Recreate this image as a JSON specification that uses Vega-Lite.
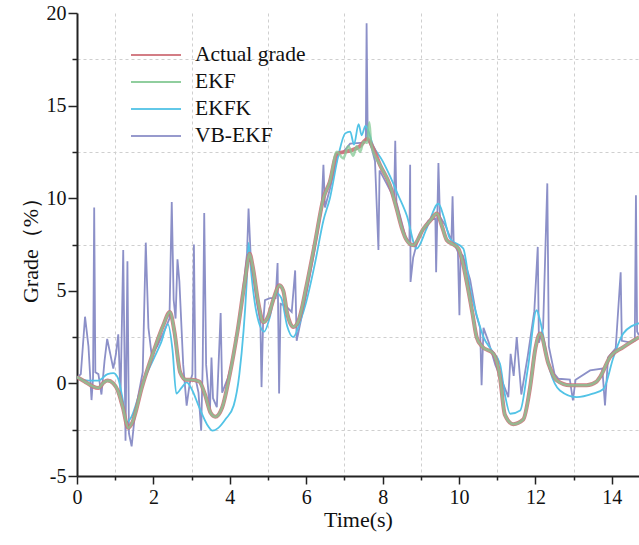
{
  "$schema": "https://vega.github.io/schema/vega-lite/v6.json",
  "width": 562,
  "height": 463,
  "autosize": {"type": "none"},
  "padding": {"left": 77, "top": 13, "right": 0, "bottom": 69},
  "background": "white",
  "config": {
    "view": {"stroke": null},
    "font": "Liberation Serif"
  },
  "datasets": {
    "actual": [
      {"t":0,"v":0.35},{"t":0.2,"v":0.1},{"t":0.4,"v":-0.15},{"t":0.56,"v":-0.25},{"t":0.7,"v":0.05},{"t":0.8,"v":0.15},{"t":0.95,"v":0.0},{"t":1.07,"v":-0.4},{"t":1.2,"v":-1.3},{"t":1.34,"v":-2.4},{"t":1.45,"v":-2.1},{"t":1.7,"v":-0.2},{"t":2.0,"v":1.7},{"t":2.25,"v":3.1},{"t":2.43,"v":3.85},{"t":2.55,"v":2.8},{"t":2.7,"v":0.6},{"t":2.85,"v":0.2},{"t":3.0,"v":0.2},{"t":3.2,"v":0.1},{"t":3.35,"v":-0.6},{"t":3.5,"v":-1.6},{"t":3.62,"v":-1.8},{"t":3.8,"v":-1.3},{"t":4.0,"v":0.5},{"t":4.2,"v":2.8},{"t":4.4,"v":5.6},{"t":4.52,"v":7.0},{"t":4.6,"v":6.3},{"t":4.75,"v":4.3},{"t":4.88,"v":3.3},{"t":5.0,"v":3.6},{"t":5.15,"v":4.6},{"t":5.3,"v":5.3},{"t":5.4,"v":5.0},{"t":5.5,"v":3.8},{"t":5.66,"v":3.05},{"t":5.8,"v":3.4},{"t":6.0,"v":5.2},{"t":6.23,"v":7.6},{"t":6.45,"v":10.0},{"t":6.62,"v":10.9},{"t":6.8,"v":12.4},{"t":7.0,"v":12.5},{"t":7.2,"v":12.6},{"t":7.4,"v":12.8},{"t":7.6,"v":13.2},{"t":7.75,"v":12.7},{"t":7.93,"v":11.8},{"t":8.19,"v":10.7},{"t":8.37,"v":9.4},{"t":8.5,"v":8.4},{"t":8.63,"v":7.73},{"t":8.8,"v":7.46},{"t":9.07,"v":8.36},{"t":9.25,"v":8.8},{"t":9.42,"v":9.17},{"t":9.55,"v":8.5},{"t":9.68,"v":7.73},{"t":9.85,"v":7.5},{"t":9.98,"v":7.28},{"t":10.1,"v":6.5},{"t":10.2,"v":5.48},{"t":10.35,"v":3.8},{"t":10.46,"v":2.5},{"t":10.6,"v":2.0},{"t":10.9,"v":1.6},{"t":11.07,"v":0.34},{"t":11.2,"v":-1.7},{"t":11.42,"v":-2.2},{"t":11.68,"v":-1.95},{"t":11.86,"v":-0.2},{"t":12.0,"v":1.9},{"t":12.12,"v":2.69},{"t":12.34,"v":1.06},{"t":12.56,"v":0.16},{"t":12.9,"v":-0.1},{"t":13.34,"v":-0.1},{"t":13.6,"v":0.1},{"t":13.69,"v":0.34},{"t":13.95,"v":1.42},{"t":14.3,"v":1.96},{"t":14.71,"v":2.5}
    ],
    "ekf": [
      {"t":0,"v":0.35},{"t":0.2,"v":0.1},{"t":0.4,"v":-0.15},{"t":0.56,"v":-0.25},{"t":0.7,"v":0.05},{"t":0.8,"v":0.15},{"t":0.95,"v":0.0},{"t":1.07,"v":-0.4},{"t":1.2,"v":-1.3},{"t":1.34,"v":-2.4},{"t":1.45,"v":-2.1},{"t":1.7,"v":-0.2},{"t":2.0,"v":1.7},{"t":2.25,"v":3.1},{"t":2.43,"v":3.85},{"t":2.55,"v":2.8},{"t":2.7,"v":0.6},{"t":2.85,"v":0.2},{"t":3.0,"v":0.2},{"t":3.2,"v":0.1},{"t":3.35,"v":-0.6},{"t":3.5,"v":-1.6},{"t":3.62,"v":-1.8},{"t":3.8,"v":-1.3},{"t":4.0,"v":0.5},{"t":4.2,"v":2.8},{"t":4.4,"v":5.6},{"t":4.52,"v":7.0},{"t":4.6,"v":6.3},{"t":4.75,"v":4.3},{"t":4.88,"v":3.3},{"t":5.0,"v":3.6},{"t":5.15,"v":4.6},{"t":5.3,"v":5.3},{"t":5.4,"v":5.0},{"t":5.5,"v":3.8},{"t":5.66,"v":3.05},{"t":5.8,"v":3.4},{"t":6.0,"v":5.2},{"t":6.23,"v":7.6},{"t":6.45,"v":10.0},{"t":6.62,"v":10.9},{"t":6.8,"v":12.5},{"t":6.97,"v":12.15},{"t":7.1,"v":12.8},{"t":7.23,"v":12.3},{"t":7.32,"v":12.8},{"t":7.41,"v":12.5},{"t":7.5,"v":13.05},{"t":7.6,"v":13.0},{"t":7.65,"v":14.1},{"t":7.7,"v":12.9},{"t":7.93,"v":11.8},{"t":8.19,"v":10.7},{"t":8.37,"v":9.4},{"t":8.5,"v":8.4},{"t":8.63,"v":7.73},{"t":8.8,"v":7.46},{"t":9.07,"v":8.36},{"t":9.25,"v":8.8},{"t":9.42,"v":9.17},{"t":9.55,"v":8.5},{"t":9.68,"v":7.73},{"t":9.85,"v":7.5},{"t":9.98,"v":7.28},{"t":10.1,"v":6.5},{"t":10.2,"v":5.48},{"t":10.35,"v":3.8},{"t":10.46,"v":2.5},{"t":10.6,"v":2.0},{"t":10.9,"v":1.6},{"t":11.07,"v":0.34},{"t":11.2,"v":-1.7},{"t":11.42,"v":-2.2},{"t":11.68,"v":-1.95},{"t":11.86,"v":-0.2},{"t":12.0,"v":1.9},{"t":12.12,"v":2.69},{"t":12.34,"v":1.06},{"t":12.56,"v":0.16},{"t":12.9,"v":-0.1},{"t":13.34,"v":-0.1},{"t":13.6,"v":0.1},{"t":13.69,"v":0.34},{"t":13.95,"v":1.42},{"t":14.3,"v":1.96},{"t":14.71,"v":2.5}
    ],
    "ekfk": [
      {"t":0,"v":0.3},{"t":0.3,"v":0.15},{"t":0.55,"v":0.15},{"t":0.8,"v":0.5},{"t":0.95,"v":0.55},{"t":1.07,"v":0.3},{"t":1.2,"v":-0.9},{"t":1.3,"v":-2.1},{"t":1.4,"v":-1.9},{"t":1.7,"v":-0.1},{"t":2.0,"v":1.3},{"t":2.2,"v":2.2},{"t":2.38,"v":3.2},{"t":2.5,"v":1.8},{"t":2.6,"v":-0.55},{"t":2.75,"v":-0.2},{"t":2.87,"v":0.05},{"t":3.0,"v":-0.3},{"t":3.2,"v":-1.3},{"t":3.4,"v":-2.2},{"t":3.55,"v":-2.55},{"t":3.7,"v":-2.4},{"t":3.9,"v":-1.9},{"t":4.1,"v":-1.2},{"t":4.25,"v":0.5},{"t":4.44,"v":5.4},{"t":4.49,"v":7.6},{"t":4.55,"v":6.2},{"t":4.7,"v":3.8},{"t":4.9,"v":2.8},{"t":5.05,"v":3.6},{"t":5.2,"v":4.9},{"t":5.35,"v":4.6},{"t":5.5,"v":3.1},{"t":5.66,"v":2.5},{"t":5.85,"v":3.4},{"t":6.0,"v":4.4},{"t":6.23,"v":6.5},{"t":6.45,"v":8.8},{"t":6.62,"v":10.0},{"t":6.84,"v":12.3},{"t":7.02,"v":13.5},{"t":7.15,"v":13.6},{"t":7.25,"v":12.9},{"t":7.37,"v":14.0},{"t":7.45,"v":13.4},{"t":7.55,"v":13.9},{"t":7.76,"v":12.8},{"t":8.0,"v":12.0},{"t":8.19,"v":11.2},{"t":8.4,"v":10.2},{"t":8.63,"v":9.08},{"t":8.89,"v":7.28},{"t":9.15,"v":8.36},{"t":9.46,"v":9.7},{"t":9.6,"v":9.0},{"t":9.76,"v":7.82},{"t":10.11,"v":7.28},{"t":10.3,"v":5.0},{"t":10.46,"v":3.7},{"t":10.64,"v":2.5},{"t":10.85,"v":1.8},{"t":11.07,"v":1.06},{"t":11.2,"v":-0.6},{"t":11.34,"v":-1.64},{"t":11.6,"v":-1.46},{"t":11.8,"v":0.8},{"t":12.03,"v":3.95},{"t":12.12,"v":3.4},{"t":12.38,"v":0.7},{"t":12.64,"v":-0.38},{"t":13.08,"v":-0.74},{"t":13.5,"v":-0.55},{"t":13.78,"v":-0.3},{"t":14.04,"v":1.4},{"t":14.3,"v":2.7},{"t":14.71,"v":3.25}
    ],
    "vb": [
      {"t":0,"v":0.3},{"t":0.1,"v":0.5},{"t":0.21,"v":3.6},{"t":0.3,"v":2.0},{"t":0.38,"v":-0.9},{"t":0.42,"v":0.3},{"t":0.45,"v":9.5},{"t":0.48,"v":0.6},{"t":0.56,"v":0.5},{"t":0.64,"v":-0.6},{"t":0.72,"v":1.2},{"t":0.79,"v":2.4},{"t":0.87,"v":1.6},{"t":0.95,"v":0.8},{"t":1.02,"v":1.6},{"t":1.08,"v":2.65},{"t":1.14,"v":-0.7},{"t":1.21,"v":7.2},{"t":1.27,"v":-3.1},{"t":1.32,"v":6.6},{"t":1.36,"v":-2.7},{"t":1.43,"v":-3.4},{"t":1.5,"v":-2.0},{"t":1.6,"v":-0.7},{"t":1.72,"v":0.6},{"t":1.8,"v":7.6},{"t":1.87,"v":3.0},{"t":1.95,"v":1.6},{"t":2.1,"v":2.0},{"t":2.3,"v":2.9},{"t":2.42,"v":3.5},{"t":2.48,"v":9.8},{"t":2.53,"v":4.5},{"t":2.58,"v":3.5},{"t":2.63,"v":6.7},{"t":2.68,"v":5.5},{"t":2.78,"v":1.0},{"t":2.87,"v":-1.2},{"t":2.95,"v":0.0},{"t":3.02,"v":0.5},{"t":3.06,"v":7.5},{"t":3.1,"v":0.3},{"t":3.18,"v":-0.5},{"t":3.25,"v":-2.55},{"t":3.29,"v":1.0},{"t":3.33,"v":9.2},{"t":3.38,"v":1.0},{"t":3.48,"v":-1.46},{"t":3.52,"v":1.4},{"t":3.56,"v":-0.8},{"t":3.66,"v":-1.28},{"t":3.76,"v":3.8},{"t":3.8,"v":-0.5},{"t":3.95,"v":0.3},{"t":4.1,"v":1.5},{"t":4.3,"v":4.2},{"t":4.45,"v":7.0},{"t":4.49,"v":9.44},{"t":4.55,"v":6.7},{"t":4.7,"v":4.5},{"t":4.8,"v":3.3},{"t":4.83,"v":-0.2},{"t":4.87,"v":3.2},{"t":4.92,"v":4.5},{"t":5.05,"v":4.6},{"t":5.2,"v":4.6},{"t":5.25,"v":6.5},{"t":5.29,"v":-0.55},{"t":5.33,"v":4.3},{"t":5.45,"v":4.2},{"t":5.62,"v":3.86},{"t":5.71,"v":6.1},{"t":5.75,"v":2.3},{"t":5.8,"v":2.8},{"t":6.0,"v":4.8},{"t":6.2,"v":7.0},{"t":6.4,"v":9.4},{"t":6.45,"v":11.8},{"t":6.49,"v":9.5},{"t":6.62,"v":10.5},{"t":6.84,"v":12.4},{"t":6.97,"v":12.5},{"t":7.15,"v":12.95},{"t":7.5,"v":13.0},{"t":7.56,"v":13.2},{"t":7.58,"v":19.45},{"t":7.61,"v":13.2},{"t":7.7,"v":12.8},{"t":7.8,"v":12.0},{"t":7.89,"v":7.2},{"t":7.92,"v":11.5},{"t":8.1,"v":10.8},{"t":8.3,"v":10.0},{"t":8.33,"v":13.1},{"t":8.36,"v":9.8},{"t":8.6,"v":7.9},{"t":8.7,"v":7.6},{"t":8.72,"v":11.8},{"t":8.73,"v":5.48},{"t":8.8,"v":6.8},{"t":8.94,"v":7.9},{"t":9.2,"v":8.8},{"t":9.38,"v":8.9},{"t":9.4,"v":6.0},{"t":9.46,"v":11.9},{"t":9.5,"v":9.0},{"t":9.65,"v":8.5},{"t":9.8,"v":7.7},{"t":9.83,"v":10.1},{"t":9.86,"v":7.6},{"t":9.97,"v":7.1},{"t":10.01,"v":3.68},{"t":10.04,"v":7.0},{"t":10.1,"v":6.9},{"t":10.29,"v":5.6},{"t":10.45,"v":3.7},{"t":10.55,"v":3.0},{"t":10.59,"v":-0.1},{"t":10.64,"v":3.0},{"t":10.78,"v":2.2},{"t":10.95,"v":1.0},{"t":11.15,"v":0.0},{"t":11.29,"v":-0.74},{"t":11.35,"v":1.6},{"t":11.43,"v":0.4},{"t":11.51,"v":2.5},{"t":11.63,"v":-0.6},{"t":11.8,"v":1.5},{"t":11.97,"v":3.9},{"t":12.06,"v":7.37},{"t":12.09,"v":2.2},{"t":12.2,"v":3.0},{"t":12.31,"v":10.8},{"t":12.35,"v":2.0},{"t":12.5,"v":0.5},{"t":12.6,"v":0.25},{"t":12.9,"v":0.2},{"t":12.98,"v":-0.92},{"t":13.05,"v":0.2},{"t":13.43,"v":0.7},{"t":13.75,"v":0.8},{"t":13.82,"v":-1.19},{"t":13.9,"v":1.4},{"t":14.1,"v":1.9},{"t":14.23,"v":6.0},{"t":14.26,"v":2.3},{"t":14.5,"v":2.2},{"t":14.6,"v":2.3},{"t":14.63,"v":10.16},{"t":14.66,"v":2.8},{"t":14.71,"v":2.6}
    ]
  },
  "encoding": {
    "x": {
      "field": "t", "type": "quantitative",
      "scale": {"domain": [0, 14.71], "nice": false, "zero": false},
      "axis": {
        "title": "Time(s)",
        "values": [0,1,2,3,4,5,6,7,8,9,10,11,12,13,14],
        "labelExpr": "datum.value % 2 === 0 ? datum.value + '' : ''",
        "tickSize": {"condition": {"test": "datum.value % 2 === 0", "value": 8}, "value": 4},
        "tickColor": "#222", "tickWidth": 1.5,
        "domainColor": "#222", "domainWidth": 2,
        "grid": true,
        "gridOpacity": {"condition": {"test": "datum.value % 2 === 1", "value": 1}, "value": 0},
        "gridColor": "#cfcfcf", "gridDash": [3, 3], "gridWidth": 1,
        "labelFont": "Liberation Serif", "labelFontSize": 20, "labelColor": "#111", "labelPadding": 3,
        "labelFlush": false, "labelOverlap": false,
        "titleFont": "Liberation Serif", "titleFontSize": 22, "titleFontWeight": "normal", "titleColor": "#111", "titlePadding": 2
      }
    },
    "y": {
      "field": "v", "type": "quantitative",
      "scale": {"domain": [-5, 20], "nice": false, "zero": false},
      "axis": {
        "title": "Grade（%）",
        "values": [-5,-2.5,0,2.5,5,7.5,10,12.5,15,17.5,20],
        "labelExpr": "datum.value % 5 === 0 ? datum.value + '' : ''",
        "tickSize": {"condition": {"test": "datum.value % 5 === 0", "value": 9}, "value": 5},
        "tickColor": "#222", "tickWidth": 1.5,
        "domainColor": "#222", "domainWidth": 2,
        "grid": true,
        "gridOpacity": {"condition": {"test": "datum.value % 5 !== 0", "value": 1}, "value": 0},
        "gridColor": "#cfcfcf", "gridDash": [3, 3], "gridWidth": 1,
        "labelFont": "Liberation Serif", "labelFontSize": 20, "labelColor": "#111", "labelPadding": 2,
        "labelFlush": false, "labelOverlap": false,
        "titleFont": "Liberation Serif", "titleFontSize": 22, "titleFontWeight": "normal", "titleColor": "#111", "titlePadding": 4
      }
    }
  },
  "layer": [
    {
      "data": {"name": "vb"},
      "mark": {"type": "line", "strokeWidth": 1.8, "clip": true, "interpolate": "linear"},
      "encoding": {"color": {"datum": "VB-EKF"}}
    },
    {
      "data": {"name": "ekfk"},
      "mark": {"type": "line", "strokeWidth": 1.8, "clip": true, "interpolate": "monotone"},
      "encoding": {"color": {"datum": "EKFK"}}
    },
    {
      "data": {"name": "actual"},
      "mark": {"type": "line", "strokeWidth": 4, "clip": true, "interpolate": "monotone", "opacity": 0.9},
      "encoding": {"color": {"datum": "Actual grade"}}
    },
    {
      "data": {"name": "ekf"},
      "mark": {"type": "line", "strokeWidth": 2.6, "clip": true, "interpolate": "monotone", "opacity": 0.75},
      "encoding": {
        "color": {
          "datum": "EKF",
          "scale": {
            "domain": ["Actual grade", "EKF", "EKFK", "VB-EKF"],
            "range": ["#cf6f78", "#84c994", "#52c3e6", "#8c90c8"]
          },
          "legend": {
            "title": null,
            "orient": "none",
            "legendX": 53,
            "legendY": 31,
            "padding": 0,
            "symbolType": "stroke",
            "symbolSize": 2500,
            "symbolStrokeWidth": 2,
            "clipHeight": 22,
            "rowPadding": 5,
            "labelOffset": 13,
            "labelFont": "Liberation Serif",
            "labelFontSize": 21.5,
            "labelColor": "#111",
            "labelLimit": 300,
            "encode": {
              "symbols": {"update": {"strokeWidth": {"signal": "datum.value === 'Actual grade' ? 3.5 : 2"}}}
            }
          }
        }
      }
    },
    {
      "mark": {"type": "rule", "strokeWidth": 2, "color": "#333"},
      "encoding": {"y": {"datum": 20}, "x": null}
    }
  ]
}
